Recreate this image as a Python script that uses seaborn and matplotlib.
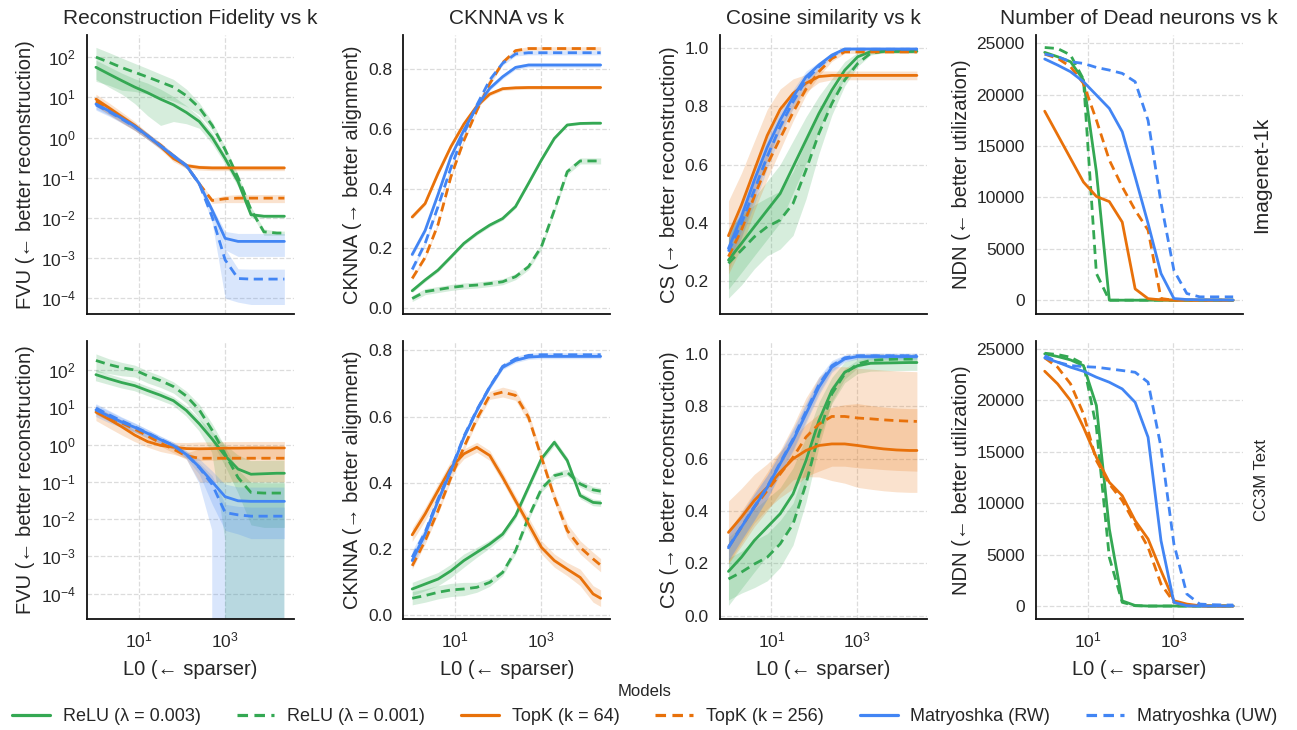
import numpy as np
import pandas as pd
import matplotlib
matplotlib.use("Agg")
import matplotlib.pyplot as plt
import seaborn as sns
from matplotlib.ticker import LogLocator, NullLocator, MultipleLocator, FixedLocator

# ---------------- data ----------------
L0 = [1, 2, 4, 8, 16, 32, 64, 128, 256, 512, 1024, 2048, 4096, 8192, 16384, 24576]

MODELS = ["ReLU (λ = 0.003)", "ReLU (λ = 0.001)", "TopK (k = 64)",
          "TopK (k = 256)", "Matryoshka (RW)", "Matryoshka (UW)"]
COLORS = ["#34A853", "#34A853", "#E8710A", "#E8710A", "#4285F4", "#4285F4"]
DASHED = [False, True, False, True, False, True]

TITLES = ["Reconstruction Fidelity vs k", "CKNNA vs k", "Cosine similarity vs k",
          "Number of Dead neurons vs k"]
YLABELS = ["FVU (← better reconstruction)", "CKNNA (→ better alignment)",
           "CS (→ better reconstruction)", "NDN (← better utilization)"]
XLABEL = "L0 (← sparser)"
ROWS = ["Imagenet-1k", "CC3M Text"]

# FVU, Imagenet-1k  (values, band half-widths)
FVU_IN_RELU3 = [56, 38, 26, 18, 13, 9, 6.5, 4.2, 2.5, 1.0, 0.3, 0.08, 0.012, 0.011, 0.011, 0.011]
FVU_IN_RELU3_S = [28, 20, 14, 11, 9.5, 7, 4, 2, 0.8, 0.3, 0.08, 0.02, 0.002, 0.001, 0.001, 0.001]
FVU_IN_RELU1 = [100, 75, 55, 42, 32, 24, 18, 11, 5.5, 2.0, 0.5, 0.1, 0.016, 0.0045, 0.0042, 0.0042]
FVU_IN_RELU1_S = [75, 55, 40, 28, 20, 14, 10, 5, 1.8, 0.5, 0.1, 0.02, 0.003, 0.0008, 0.0005, 0.0005]
FVU_IN_TOPK64 = [9, 5.5, 3.3, 2.0, 1.1, 0.6, 0.3, 0.2, 0.18, 0.175, 0.175, 0.175, 0.175, 0.175, 0.175, 0.175]
FVU_IN_TOPK64_S = [3, 1.8, 1.0, 0.5, 0.2, 0.1, 0.05, 0.03, 0.025, 0.025, 0.025, 0.025, 0.025, 0.025, 0.025, 0.025]
FVU_IN_TOPK256 = [8, 5, 3.1, 1.9, 1.1, 0.65, 0.35, 0.2, 0.07, 0.027, 0.03, 0.031, 0.031, 0.031, 0.031, 0.031]
FVU_IN_TOPK256_S = [2, 1.2, 0.7, 0.4, 0.2, 0.1, 0.05, 0.03, 0.01, 0.004, 0.006, 0.007, 0.007, 0.007, 0.007, 0.007]
FVU_IN_MATRW = [6.8, 4.6, 3.0, 1.9, 1.1, 0.62, 0.35, 0.2, 0.071, 0.0155, 0.0031, 0.0026, 0.0026, 0.0026, 0.0026, 0.0026]
FVU_IN_MATRW_S = [1.7, 1.0, 0.6, 0.35, 0.2, 0.1, 0.05, 0.03, 0.01, 0.003, 0.0015, 0.0015, 0.0015, 0.0015, 0.0015, 0.0015]
FVU_IN_MATUW = [6.5, 4.4, 2.9, 1.85, 1.1, 0.62, 0.35, 0.2, 0.07, 0.0105, 0.0009, 0.00031, 0.0003, 0.0003, 0.0003, 0.0003]
FVU_IN_MATUW_S = [1.7, 1.0, 0.6, 0.35, 0.2, 0.1, 0.05, 0.03, 0.01, 0.003, 0.0008, 0.00023, 0.00023, 0.00023, 0.00023, 0.00023]

# FVU, CC3M Text
FVU_CC_RELU3 = [75, 58, 46, 38, 28, 21, 15, 8.2, 3.6, 1.4, 0.5, 0.22, 0.16, 0.165, 0.17, 0.17]
FVU_CC_RELU3_S = [25, 18, 14, 11, 8, 6, 4, 2.5, 1.3, 0.8, 0.497, 0.3, 0.2, 0.2, 0.2, 0.2]
FVU_CC_RELU1 = [180, 140, 115, 100, 70, 52, 36, 20, 8.5, 2.4, 0.56, 0.13, 0.052, 0.05, 0.05, 0.05]
FVU_CC_RELU1_S = [90, 60, 45, 35, 25, 18, 12, 7, 3.5, 1.2, 0.3, 0.08, 0.045, 0.044, 0.044, 0.044]
FVU_CC_TOPK64 = [7.4, 4.8, 3.0, 1.8, 1.2, 0.95, 0.85, 0.78, 0.77, 0.78, 0.8, 0.8, 0.81, 0.81, 0.81, 0.81]
FVU_CC_TOPK64_S = [3, 2, 1.2, 0.6, 0.35, 0.3, 0.3, 0.35, 0.4, 0.4, 0.4, 0.4, 0.4, 0.4, 0.4, 0.4]
FVU_CC_TOPK256 = [8.5, 5.5, 3.8, 2.6, 1.7, 1.1, 0.75, 0.5, 0.43, 0.43, 0.43, 0.43, 0.43, 0.43, 0.43, 0.43]
FVU_CC_TOPK256_S = [2, 1.2, 0.8, 0.5, 0.3, 0.2, 0.15, 0.1, 0.33, 0.33, 0.33, 0.33, 0.33, 0.33, 0.33, 0.33]
FVU_CC_MATRW = [8.5, 5.8, 4.0, 2.9, 2.0, 1.35, 0.94, 0.54, 0.25, 0.1, 0.04, 0.031, 0.03, 0.03, 0.03, 0.03]
FVU_CC_MATRW_S = [3, 2, 1.2, 0.8, 0.5, 0.3, 0.2, 0.12, 0.16, 0.095, 0.045, 0.04, 0.04, 0.04, 0.04, 0.04]
FVU_CC_MATUW = [9.5, 6.3, 4.3, 3.0, 2.05, 1.38, 0.95, 0.55, 0.24, 0.085, 0.015, 0.013, 0.012, 0.012, 0.012, 0.012]
FVU_CC_MATUW_S = [3, 2, 1.2, 0.8, 0.5, 0.3, 0.2, 0.12, 0.08, 0.06, 0.01, 0.009, 0.009, 0.009, 0.009, 0.009]

# CKNNA, Imagenet-1k
CK_IN_RELU3 = [0.059, 0.095, 0.128, 0.172, 0.217, 0.25, 0.278, 0.30, 0.34, 0.417, 0.495, 0.567, 0.612, 0.617, 0.618, 0.618]
CK_IN_RELU1 = [0.033, 0.056, 0.063, 0.07, 0.075, 0.078, 0.083, 0.089, 0.106, 0.139, 0.206, 0.328, 0.456, 0.492, 0.492, 0.492]
CK_IN_TOPK64 = [0.305, 0.35, 0.45, 0.54, 0.615, 0.675, 0.715, 0.733, 0.736, 0.737, 0.737, 0.737, 0.737, 0.737, 0.737, 0.737]
CK_IN_TOPK256 = [0.10, 0.17, 0.28, 0.44, 0.56, 0.66, 0.75, 0.82, 0.86, 0.867, 0.867, 0.867, 0.867, 0.867, 0.867, 0.867]
CK_IN_MATRW = [0.18, 0.26, 0.38, 0.506, 0.595, 0.673, 0.734, 0.773, 0.804, 0.812, 0.812, 0.812, 0.812, 0.812, 0.812, 0.812]
CK_IN_MATUW = [0.13, 0.217, 0.34, 0.47, 0.584, 0.678, 0.762, 0.818, 0.849, 0.853, 0.853, 0.853, 0.853, 0.853, 0.853, 0.853]
CK_IN_RELU3_S = [0.006, 0.006, 0.006, 0.006, 0.006, 0.006, 0.006, 0.006, 0.006, 0.005, 0.005, 0.005, 0.004, 0.004, 0.004, 0.004]
CK_IN_RELU1_S = [0.01, 0.01, 0.01, 0.01, 0.01, 0.01, 0.01, 0.01, 0.01, 0.01, 0.01, 0.01, 0.01, 0.01, 0.01, 0.01]
CK_IN_TOPK_S = [0.006, 0.006, 0.006, 0.006, 0.006, 0.006, 0.006, 0.006, 0.006, 0.006, 0.006, 0.006, 0.006, 0.006, 0.006, 0.006]
CK_IN_MAT_S = [0.008, 0.008, 0.008, 0.008, 0.007, 0.007, 0.007, 0.007, 0.007, 0.007, 0.007, 0.007, 0.007, 0.007, 0.007, 0.007]

# CKNNA, CC3M Text
CK_CC_RELU3 = [0.078, 0.093, 0.108, 0.133, 0.164, 0.189, 0.214, 0.244, 0.30, 0.386, 0.472, 0.522, 0.467, 0.361, 0.34, 0.338]
CK_CC_RELU1 = [0.05, 0.058, 0.068, 0.075, 0.078, 0.083, 0.098, 0.128, 0.194, 0.295, 0.381, 0.421, 0.431, 0.396, 0.378, 0.374]
CK_CC_TOPK64 = [0.242, 0.305, 0.376, 0.446, 0.487, 0.507, 0.482, 0.416, 0.345, 0.275, 0.204, 0.164, 0.138, 0.113, 0.063, 0.05]
CK_CC_TOPK256 = [0.148, 0.224, 0.315, 0.416, 0.507, 0.593, 0.664, 0.674, 0.664, 0.598, 0.477, 0.356, 0.255, 0.204, 0.169, 0.15]
CK_CC_MATRW = [0.164, 0.244, 0.345, 0.436, 0.537, 0.618, 0.689, 0.749, 0.77, 0.78, 0.782, 0.782, 0.782, 0.782, 0.782, 0.782]
CK_CC_MATUW = [0.174, 0.25, 0.35, 0.44, 0.54, 0.62, 0.69, 0.752, 0.775, 0.785, 0.787, 0.787, 0.787, 0.787, 0.787, 0.787]
CK_CC_RELU_S = [0.02, 0.02, 0.02, 0.02, 0.02, 0.015, 0.012, 0.01, 0.01, 0.01, 0.01, 0.01, 0.01, 0.01, 0.01, 0.01]
CK_CC_TOPK64_S = [0.02, 0.02, 0.02, 0.02, 0.015, 0.015, 0.015, 0.015, 0.015, 0.02, 0.02, 0.02, 0.02, 0.025, 0.025, 0.025]
CK_CC_TOPK256_S = [0.01, 0.01, 0.01, 0.01, 0.01, 0.01, 0.012, 0.015, 0.015, 0.015, 0.015, 0.015, 0.02, 0.02, 0.02, 0.02]
CK_CC_MAT_S = [0.02, 0.015, 0.012, 0.01, 0.008, 0.008, 0.007, 0.007, 0.007, 0.007, 0.007, 0.007, 0.007, 0.007, 0.007, 0.007]

# Cosine similarity, Imagenet-1k
CS_IN_RELU3 = [0.271, 0.328, 0.386, 0.443, 0.50, 0.592, 0.684, 0.776, 0.856, 0.925, 0.971, 0.989, 0.99, 0.99, 0.99, 0.99]
CS_IN_RELU1 = [0.26, 0.305, 0.351, 0.386, 0.409, 0.466, 0.581, 0.707, 0.81, 0.891, 0.948, 0.983, 0.99, 0.99, 0.99, 0.99]
CS_IN_TOPK64 = [0.355, 0.46, 0.58, 0.70, 0.79, 0.845, 0.88, 0.903, 0.907, 0.907, 0.907, 0.907, 0.907, 0.907, 0.907, 0.907]
CS_IN_TOPK256 = [0.283, 0.374, 0.49, 0.6, 0.69, 0.78, 0.86, 0.92, 0.965, 0.988, 0.988, 0.988, 0.988, 0.988, 0.988, 0.988]
CS_IN_MATRW = [0.311, 0.42, 0.546, 0.66, 0.753, 0.833, 0.902, 0.943, 0.977, 0.998, 0.998, 0.998, 0.998, 0.998, 0.998, 0.998]
CS_IN_MATUW = [0.30, 0.397, 0.512, 0.627, 0.73, 0.816, 0.891, 0.937, 0.974, 0.997, 0.997, 0.997, 0.997, 0.997, 0.997, 0.997]
CS_IN_RELU3_S = [0.1, 0.1, 0.1, 0.1, 0.1, 0.09, 0.08, 0.06, 0.04, 0.03, 0.015, 0.008, 0.005, 0.005, 0.005, 0.005]
CS_IN_RELU1_S = [0.12, 0.12, 0.11, 0.1, 0.1, 0.11, 0.1, 0.07, 0.04, 0.02, 0.01, 0.006, 0.005, 0.005, 0.005, 0.005]
CS_IN_TOPK64_S = [0.12, 0.11, 0.1, 0.09, 0.07, 0.05, 0.03, 0.02, 0.015, 0.015, 0.015, 0.015, 0.015, 0.015, 0.015, 0.015]
CS_IN_TOPK256_S = [0.06, 0.06, 0.05, 0.05, 0.04, 0.03, 0.02, 0.015, 0.01, 0.005, 0.005, 0.005, 0.005, 0.005, 0.005, 0.005]
CS_IN_MAT_S = [0.05, 0.05, 0.05, 0.04, 0.03, 0.025, 0.02, 0.01, 0.005, 0.004, 0.004, 0.004, 0.004, 0.004, 0.004, 0.004]

# Cosine similarity, CC3M Text
CS_CC_RELU3 = [0.169, 0.223, 0.287, 0.338, 0.389, 0.465, 0.592, 0.745, 0.86, 0.93, 0.955, 0.964, 0.965, 0.966, 0.967, 0.967]
CS_CC_RELU1 = [0.14, 0.166, 0.197, 0.223, 0.274, 0.35, 0.503, 0.694, 0.847, 0.924, 0.962, 0.975, 0.978, 0.98, 0.98, 0.98]
CS_CC_TOPK64 = [0.318, 0.376, 0.44, 0.49, 0.548, 0.599, 0.631, 0.65, 0.656, 0.656, 0.65, 0.643, 0.637, 0.633, 0.631, 0.631]
CS_CC_TOPK256 = [0.261, 0.338, 0.414, 0.478, 0.541, 0.605, 0.682, 0.732, 0.761, 0.761, 0.755, 0.752, 0.748, 0.745, 0.743, 0.742]
CS_CC_MATRW = [0.259, 0.338, 0.414, 0.49, 0.58, 0.669, 0.771, 0.873, 0.949, 0.981, 0.99, 0.99, 0.99, 0.99, 0.99, 0.99]
CS_CC_MATUW = [0.262, 0.34, 0.416, 0.492, 0.584, 0.675, 0.78, 0.882, 0.955, 0.985, 0.993, 0.993, 0.993, 0.993, 0.993, 0.993]
CS_CC_RELU3_S = [0.13, 0.12, 0.12, 0.11, 0.1, 0.1, 0.09, 0.07, 0.05, 0.04, 0.03, 0.03, 0.03, 0.03, 0.03, 0.03]
CS_CC_RELU1_S = [0.08, 0.08, 0.09, 0.09, 0.09, 0.08, 0.07, 0.05, 0.03, 0.02, 0.015, 0.01, 0.01, 0.01, 0.01, 0.01]
CS_CC_TOPK64_S = [0.12, 0.11, 0.1, 0.09, 0.08, 0.08, 0.1, 0.12, 0.14, 0.15, 0.16, 0.16, 0.16, 0.16, 0.16, 0.16]
CS_CC_TOPK256_S = [0.06, 0.06, 0.06, 0.07, 0.09, 0.12, 0.15, 0.18, 0.19, 0.19, 0.19, 0.19, 0.19, 0.19, 0.19, 0.19]
CS_CC_MAT_S = [0.05, 0.05, 0.05, 0.045, 0.04, 0.04, 0.035, 0.03, 0.02, 0.012, 0.01, 0.01, 0.01, 0.01, 0.01, 0.01]

# Number of dead neurons, Imagenet-1k
NDN_IN_RELU3 = [24125, 23700, 23215, 21430, 12500, 0, 0, 0, 0, 0, 0, 0, 0, 0, 0, 0]
NDN_IN_RELU1 = [24600, 24500, 23870, 21500, 2600, 0, 0, 0, 0, 0, 0, 0, 0, 0, 0, 0]
NDN_IN_TOPK64 = [18400, 16100, 13800, 11500, 10100, 9600, 7600, 1100, 150, 30, 0, 0, 0, 0, 0, 0]
NDN_IN_TOPK256 = [23960, 23540, 22730, 21100, 17530, 13640, 11040, 8770, 6820, 160, 0, 0, 0, 0, 0, 0]
NDN_IN_MATRW = [23480, 22890, 22240, 21270, 19970, 18670, 16400, 12010, 7470, 2600, 160, 65, 40, 30, 20, 10]
NDN_IN_MATUW = [23960, 23700, 23220, 23050, 22660, 22400, 22080, 21270, 17500, 9500, 2900, 650, 325, 325, 325, 325]

# Number of dead neurons, CC3M Text
NDN_CC_RELU3 = [24520, 24260, 23930, 23380, 19500, 7500, 500, 50, 0, 0, 0, 0, 0, 0, 0, 0]
NDN_CC_RELU1 = [24580, 24450, 24190, 23540, 17380, 4730, 360, 30, 0, 0, 0, 0, 0, 0, 0, 0]
NDN_CC_TOPK64 = [22830, 21600, 19980, 17380, 14460, 12030, 10730, 8300, 6520, 3440, 520, 190, 30, 0, 0, 0]
NDN_CC_TOPK256 = [24130, 23220, 21600, 18680, 14140, 11870, 10250, 7980, 5710, 2140, 360, 30, 0, 0, 0, 0]
NDN_CC_MATRW = [24130, 23710, 23220, 22830, 22250, 21760, 21110, 19810, 16410, 6360, 360, 30, 0, 0, 0, 0]
NDN_CC_MATUW = [24350, 23710, 23380, 23280, 23220, 23060, 22900, 22730, 21760, 15440, 6030, 1170, 190, 130, 100, 100]

# ---------------- assemble ----------------
PANELS = {
    (0, 0): [(FVU_IN_RELU3, FVU_IN_RELU3_S), (FVU_IN_RELU1, FVU_IN_RELU1_S),
             (FVU_IN_TOPK64, FVU_IN_TOPK64_S), (FVU_IN_TOPK256, FVU_IN_TOPK256_S),
             (FVU_IN_MATRW, FVU_IN_MATRW_S), (FVU_IN_MATUW, FVU_IN_MATUW_S)],
    (1, 0): [(FVU_CC_RELU3, FVU_CC_RELU3_S), (FVU_CC_RELU1, FVU_CC_RELU1_S),
             (FVU_CC_TOPK64, FVU_CC_TOPK64_S), (FVU_CC_TOPK256, FVU_CC_TOPK256_S),
             (FVU_CC_MATRW, FVU_CC_MATRW_S), (FVU_CC_MATUW, FVU_CC_MATUW_S)],
    (0, 1): [(CK_IN_RELU3, CK_IN_RELU3_S), (CK_IN_RELU1, CK_IN_RELU1_S),
             (CK_IN_TOPK64, CK_IN_TOPK_S), (CK_IN_TOPK256, CK_IN_TOPK_S),
             (CK_IN_MATRW, CK_IN_MAT_S), (CK_IN_MATUW, CK_IN_MAT_S)],
    (1, 1): [(CK_CC_RELU3, CK_CC_RELU_S), (CK_CC_RELU1, CK_CC_RELU_S),
             (CK_CC_TOPK64, CK_CC_TOPK64_S), (CK_CC_TOPK256, CK_CC_TOPK256_S),
             (CK_CC_MATRW, CK_CC_MAT_S), (CK_CC_MATUW, CK_CC_MAT_S)],
    (0, 2): [(CS_IN_RELU3, CS_IN_RELU3_S), (CS_IN_RELU1, CS_IN_RELU1_S),
             (CS_IN_TOPK64, CS_IN_TOPK64_S), (CS_IN_TOPK256, CS_IN_TOPK256_S),
             (CS_IN_MATRW, CS_IN_MAT_S), (CS_IN_MATUW, CS_IN_MAT_S)],
    (1, 2): [(CS_CC_RELU3, CS_CC_RELU3_S), (CS_CC_RELU1, CS_CC_RELU1_S),
             (CS_CC_TOPK64, CS_CC_TOPK64_S), (CS_CC_TOPK256, CS_CC_TOPK256_S),
             (CS_CC_MATRW, CS_CC_MAT_S), (CS_CC_MATUW, CS_CC_MAT_S)],
    (0, 3): [(NDN_IN_RELU3, None), (NDN_IN_RELU1, None), (NDN_IN_TOPK64, None),
             (NDN_IN_TOPK256, None), (NDN_IN_MATRW, None), (NDN_IN_MATUW, None)],
    (1, 3): [(NDN_CC_RELU3, None), (NDN_CC_RELU1, None), (NDN_CC_TOPK64, None),
             (NDN_CC_TOPK256, None), (NDN_CC_MATRW, None), (NDN_CC_MATUW, None)],
}

YLIMS = {
    (0, 0): (10 ** -4.38, 10 ** 2.55), (1, 0): (10 ** -4.68, 10 ** 2.79),
    (0, 1): (-0.017, 0.912), (1, 1): (-0.013, 0.830),
    (0, 2): (0.087, 1.046), (1, 2): (-0.013, 1.051),
    (0, 3): (-1299, 25814), (1, 3): (-1265, 25814),
}

# ---------------- style ----------------
sns.set_theme(style="white", rc={
    "axes.grid": True,
    "grid.linestyle": "--",
    "grid.color": "#dcdcdc",
    "grid.linewidth": 0.9,
    "axes.edgecolor": "#111111",
    "axes.linewidth": 1.3,
})
plt.rcParams["font.family"] = ["Liberation Sans", "DejaVu Sans"]
plt.rcParams["mathtext.default"] = "regular"
plt.rcParams["axes.unicode_minus"] = True

palette = dict(zip(MODELS, COLORS))
dashes = {m: ((3.3, 2.0) if d else "") for m, d in zip(MODELS, DASHED)}

fig, axes = plt.subplots(2, 4, figsize=(12.97, 7.30), dpi=100, sharex=True)
fig.subplots_adjust(left=0.0671, right=0.9583, top=0.952, bottom=0.152,
                    wspace=0.527, hspace=0.097)

for (r, c), series in PANELS.items():
    ax = axes[r, c]
    frames = []
    for name, (vals, spread) in zip(MODELS, series):
        frames.append(pd.DataFrame({"L0": L0, "value": vals, "Model": name}))
    df = pd.concat(frames, ignore_index=True)
    if c == 0:
        ax.set_yscale("log")
    ax.set_xscale("log")
    for name, col, (vals, spread) in zip(MODELS, COLORS, series):
        if spread is None:
            continue
        v = np.asarray(vals, float)
        s = np.asarray(spread, float)
        ax.fill_between(L0, v - s, v + s, color=col, alpha=0.2, lw=0)
    sns.lineplot(data=df, x="L0", y="value", hue="Model", style="Model",
                 palette=palette, dashes=dashes, hue_order=MODELS,
                 style_order=MODELS, lw=2, ax=ax, legend=(r == 0 and c == 0),
                 errorbar=None, sort=False)
    ax.set_ylim(*YLIMS[(r, c)])
    ax.set_xlim(0.62, 41500)
    ax.xaxis.set_major_locator(FixedLocator([10, 1000]))
    ax.xaxis.set_minor_locator(NullLocator())
    if c == 0:
        ax.yaxis.set_major_locator(LogLocator(base=10, numticks=20))
        ax.yaxis.set_minor_locator(NullLocator())
    elif c == 3:
        ax.yaxis.set_major_locator(MultipleLocator(5000))
    else:
        ax.yaxis.set_major_locator(MultipleLocator(0.2))
    ax.tick_params(axis="both", labelsize=12.5, length=0, pad=8)
    ax.set_ylabel(YLABELS[c], fontsize=14.5, labelpad=4)
    if r == 1:
        ax.set_xlabel(XLABEL, fontsize=14.5, labelpad=7)
    else:
        ax.set_xlabel("")
        ax.set_title(TITLES[c], fontsize=15, pad=8)
    sns.despine(ax=ax)

handles, labels = axes[0, 0].get_legend_handles_labels()
axes[0, 0].get_legend().remove()
leg = fig.legend(handles, labels, loc="lower center", bbox_to_anchor=(0.497, -0.016),
                 ncol=6, frameon=False, title="Models", fontsize=13,
                 title_fontsize=12, handlelength=2.1, handletextpad=0.7,
                 columnspacing=2.0)
for h in leg.legend_handles:
    h.set_linewidth(2.3)

fig.text(0.973, 0.760, ROWS[0], rotation=90, fontsize=15, ha="center", va="center")
fig.text(0.973, 0.342, ROWS[1], rotation=90, fontsize=12, ha="center", va="center")

fig.savefig("out.png", dpi=100)
